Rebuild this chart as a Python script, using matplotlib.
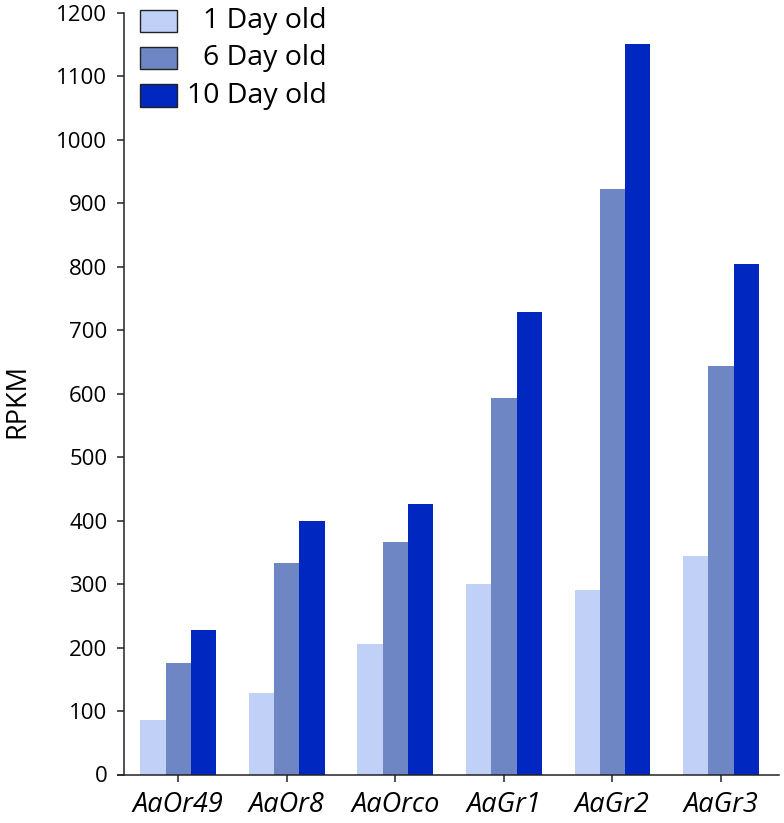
import matplotlib
matplotlib.use("Agg")
import matplotlib.pyplot as plt
from matplotlib.patches import Rectangle
import numpy as np

plt.rcParams['font.family'] = ['Open Sans', 'DejaVu Sans']

genes = ["AaOr49", "AaOr8", "AaOrco", "AaGr1", "AaGr2", "AaGr3"]
series_names = ["1 Day old", "6 Day old", "10 Day old"]
day1 = [86, 128, 206, 300, 291, 345]
day6 = [175, 334, 367, 594, 922, 643]
day10 = [228, 400, 426, 729, 1151, 805]
colors = ["#C0D0F6", "#6E86C4", "#0028C0"]
yticks = [0, 100, 200, 300, 400, 500, 600, 700, 800, 900, 1000, 1100, 1200]

W, H = 784, 823
fig = plt.figure(figsize=(W / 100, H / 100), dpi=100)
ax = fig.add_axes([117.5 / W, 1 - 774.5 / H, 661 / W, 761.5 / H])

x = np.arange(len(genes))
bw = 0.233
for i, (vals, c) in enumerate(zip([day1, day6, day10], colors)):
    ax.bar(x + (i - 1) * bw, vals, width=bw, color=c, edgecolor='none', zorder=2)

ax.set_xlim(-0.56, 5.53)
ax.set_ylim(0, 1200)
ax.spines['top'].set_visible(False)
ax.spines['right'].set_visible(False)
ax.spines['left'].set_position(('data', -0.5))
for s in ['left', 'bottom']:
    ax.spines[s].set_linewidth(1.1)
    ax.spines[s].set_color('#222222')

ax.set_yticks(yticks)
ax.set_yticklabels([str(v) for v in yticks], fontsize=16)
ax.set_xticks(x)
ax.set_xticklabels(genes, fontsize=19.5, style='italic')
ax.tick_params(axis='y', direction='out', length=5, width=1.1, pad=7, colors='#222222', labelcolor='black')
ax.tick_params(axis='x', direction='out', length=5, width=1.1, pad=7, colors='#222222', labelcolor='black')
ax.set_ylabel("RPKM", fontsize=19.5)
ax.yaxis.set_label_coords(-0.13, 0.49)

# legend
box_y = [(10, 32), (47, 69), (84, 107)]
for (y0, y1), c, name in zip(box_y, colors, series_names):
    fig.add_artist(Rectangle((140 / W, 1 - y1 / H), 37 / W, (y1 - y0) / H,
                             transform=fig.transFigure, facecolor=c,
                             edgecolor='#222222', linewidth=1.0))
    fig.text(327 / W, 1 - ((y0 + y1) / 2) / H, name, ha='right', va='center',
             fontsize=20.5)

fig.savefig("out.png", dpi=100)
